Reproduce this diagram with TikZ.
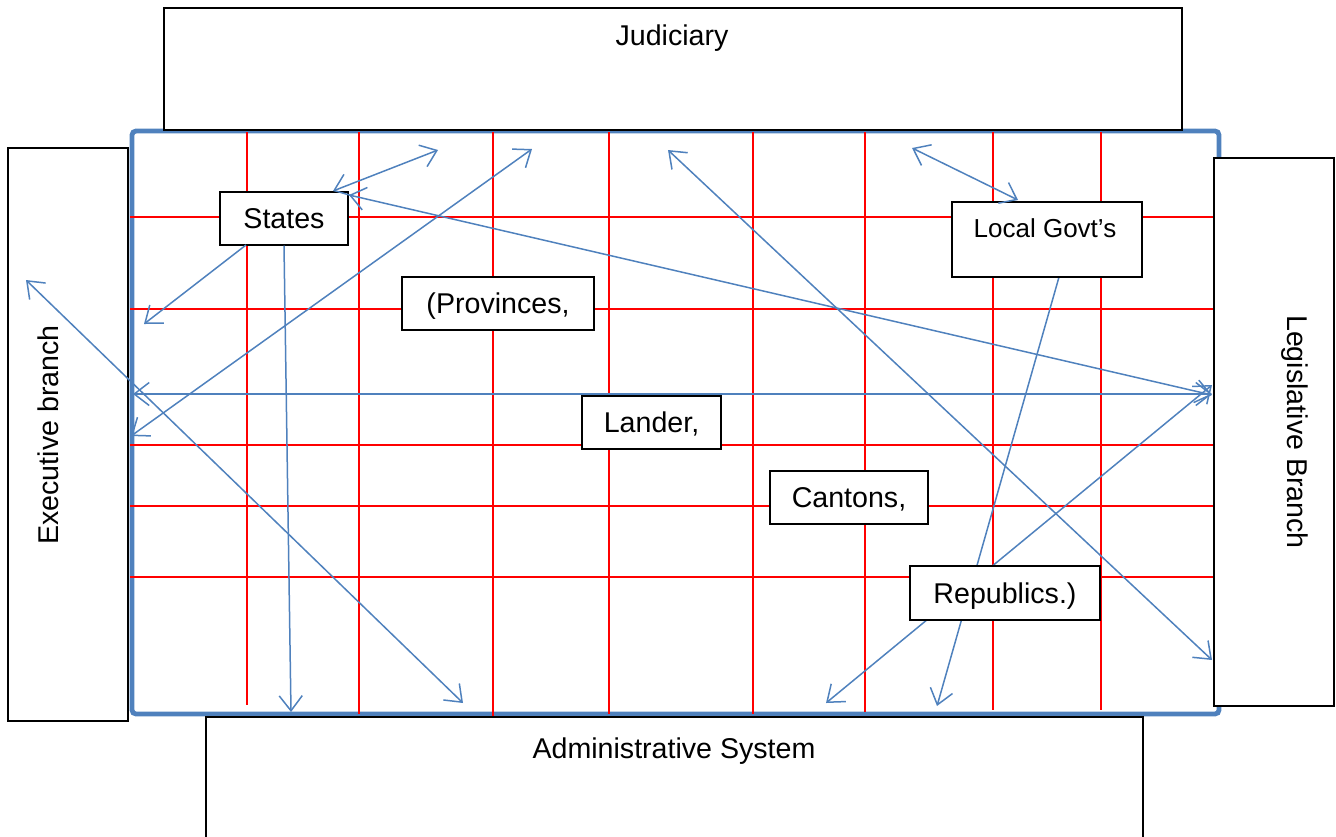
\documentclass[tikz,border=0pt]{standalone}
\usepackage{fontspec}
\setmainfont{Liberation Sans}
\usetikzlibrary{arrows.meta,backgrounds}

\definecolor{linkblue}{RGB}{79,129,189}

\tikzset{
  box/.style={draw=black, fill=white, line width=0.65pt, inner sep=0pt,
    text height=1em, text depth=0pt},
  grid/.style={red, line width=1pt},
  frame/.style={draw=linkblue, line width=2.4pt, rounded corners=2pt},
  link/.style={linkblue, line width=0.75pt, >={Straight Barb[length=7.5pt,width=11.5pt]}}
}

\begin{document}
\begin{tikzpicture}[x=0.5pt, y=-0.5pt, font=\fontsize{14.3}{17}\selectfont]
\useasboundingbox (0, 0) rectangle (1336, 836);
\clip (0, 0) rectangle (1336, 836);

% branches round the frame
\node [box, minimum width=509pt, minimum height=61pt] (judiciary) at (673, 69) {};
\node [anchor=base] (judiciaryText) at (672, 45) {Judiciary};
\node [box, minimum width=60pt, minimum height=286.5pt] (executive) at (68, 434.5) {};
\node [rotate=90, anchor=base] (executiveText) at (58, 435) {Executive branch};
\node [box, minimum width=60pt, minimum height=274pt] (legislative) at (1274, 432) {};
\node [rotate=-90, anchor=base] (legislativeText) at (1287, 432) {Legislative Branch};
\node [box, minimum width=468.5pt, minimum height=120pt] (admin) at (674.5, 837) {};
\node [anchor=base] (adminText) at (674, 758) {Administrative System};

% levels of government
\node [box, minimum width=64pt, minimum height=26.5pt] (states) at (284, 218.5) {States};
\node [box, minimum width=96pt, minimum height=26.5pt] (provinces) at (498, 303.5) {(Provinces,};
\node [box, minimum width=69.5pt, minimum height=26.5pt] (lander) at (651.5, 422.5) {Lander,};
\node [box, minimum width=79pt, minimum height=26.5pt] (cantons) at (849, 497.5) {Cantons,};
\node [box, minimum width=95pt, minimum height=27pt] (republics) at (1005, 593) {Republics.)};
\node [box, minimum width=95pt, minimum height=37.5pt] (localGovt) at (1047, 239.5) {};
\node [anchor=base, font=\fontsize{13}{15}\selectfont] (localGovtText) at (1045, 237) {Local Govt’s};

% free ends of the arrows
\coordinate (statesLow) at (246, 245);
\coordinate (execHigh) at (144, 324);
\coordinate (adminLeft) at (291, 712);
\coordinate (statesTop) at (333, 191);
\coordinate (judLeft) at (438, 150);
\coordinate (statesSide) at (349, 195);
\coordinate (legMid) at (1212, 395);
\coordinate (execLow) at (131, 436);
\coordinate (judMid) at (532, 149);
\coordinate (execOut) at (26, 280);
\coordinate (adminMid) at (463, 703);
\coordinate (judRight) at (668, 150);
\coordinate (legLow) at (1212, 660);
\coordinate (judFar) at (912, 148);
\coordinate (localTop) at (1018, 200);
\coordinate (localLow) at (1059, 277);
\coordinate (adminRight) at (937, 706);
\coordinate (adminCentre) at (826, 703);
\coordinate (legHigh) at (1212, 385);
\coordinate (execMid) at (133, 394);
\coordinate (legLevel) at (1212, 394);

\begin{scope}[on background layer]
\draw [frame] (132, 131) rectangle (1219, 714);
\draw [grid] (130, 217) -- (1214, 217);
\draw [grid] (130, 309) -- (1214, 309);
\draw [grid] (130, 445) -- (1214, 445);
\draw [grid] (130, 506) -- (1214, 506);
\draw [grid] (130, 577) -- (1214, 577);
\draw [grid] (247, 132) -- (247, 705);
\draw [grid] (359, 132) -- (359, 714);
\draw [grid] (493, 132) -- (493, 721);
\draw [grid] (609, 132) -- (609, 714);
\draw [grid] (753, 132) -- (753, 714);
\draw [grid] (865, 132) -- (865, 712);
\draw [grid] (993, 132) -- (993, 710);
\draw [grid] (1101, 132) -- (1101, 710);
\draw [link, ->] (localLow) -- (adminRight); %behind republics
\draw [link, <->] (adminCentre) -- (legHigh);
\end{scope}

\draw [link, ->] (statesLow) -- (execHigh);
\draw [link, ->] (states.south) -- (adminLeft);
\draw [link, <->] (statesTop) -- (judLeft);
\draw [link, <->] (statesSide) -- (legMid);
\draw [link, <->] (execLow) -- (judMid);
\draw [link, <->] (execOut) -- (adminMid);
\draw [link, <->] (judRight) -- (legLow);
\draw [link, <->] (judFar) -- (localTop);
\draw [link, <->] (execMid) -- (legLevel);
\end{tikzpicture}
\end{document}
